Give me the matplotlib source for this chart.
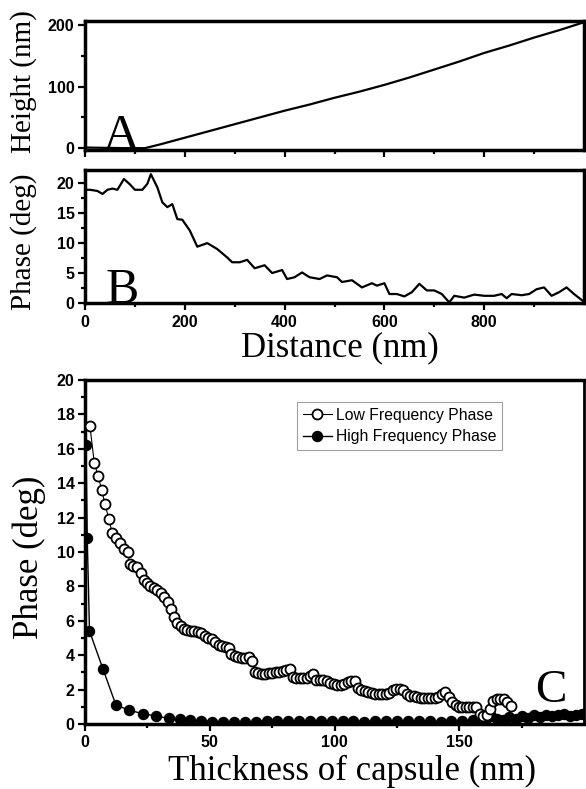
import matplotlib
matplotlib.use("Agg")
import matplotlib.pyplot as plt
from matplotlib.ticker import MultipleLocator, FixedLocator

# ---------------- data ----------------
dist_height = [0, 40, 80, 120, 150, 200, 250, 300, 350, 400, 450, 500, 550, 600,
               650, 700, 750, 800, 850, 900, 950, 1000]
height_nm = [1, 0.5, 0, 0, 6, 17, 28, 39, 50, 61, 71, 82, 92, 103,
             115, 128, 141, 155, 167, 180, 192, 205]

dist_phase = [0, 10, 25, 35, 45, 55, 65, 78, 90, 100, 115, 125, 132, 145, 155, 165, 175,
              185, 195, 210, 225, 245, 265, 285, 295, 310, 325, 340, 360, 375, 395, 405,
              420, 435, 450, 470, 485, 505, 515, 535, 555, 575, 585, 600, 610, 625, 640,
              655, 670, 685, 700, 715, 730, 740, 760, 780, 800, 820, 835, 845, 855, 875,
              890, 905, 920, 935, 950, 965, 980, 1000]
phase_deg = [18.9, 18.9, 18.7, 18.2, 18.9, 19.1, 18.9, 20.7, 19.8, 18.9, 18.9, 19.9, 21.5,
             19.3, 16.8, 16.0, 16.5, 14.0, 13.9, 12.1, 9.4, 10.0, 9.0, 7.6, 6.8, 6.8, 7.2,
             5.8, 6.3, 5.0, 5.5, 4.0, 4.3, 5.1, 4.3, 4.0, 4.6, 4.3, 3.5, 3.8, 2.6, 3.3,
             2.9, 3.3, 1.5, 1.5, 1.1, 1.8, 3.2, 2.1, 2.1, 1.5, 0.1, 1.2, 0.9, 1.4, 1.2,
             1.2, 1.5, 0.8, 1.5, 1.3, 1.5, 2.3, 2.6, 1.2, 1.8, 2.6, 1.5, 0.2]

low_x = [2.0, 3.7, 5.3, 6.7, 8.0, 9.6, 10.9, 12.3, 14.0, 15.7, 17.3, 17.9, 19.3, 20.9,
         22.4, 23.6, 24.7, 26.2, 27.5, 28.9, 30.4, 31.8, 33.3, 34.4, 35.7, 37.0, 38.3,
         39.6, 41.0, 42.4, 43.8, 45.2, 46.6, 48.0, 49.4, 50.8, 52.2, 53.6, 55.0, 56.4,
         57.6, 58.6, 60.0, 61.4, 62.8, 64.2, 65.6, 66.9, 68.1, 69.4, 70.8, 72.2, 73.6,
         75.0, 76.4, 77.8, 79.2, 80.6, 82.0, 83.3, 84.7, 86.1, 87.5, 88.9, 90.3, 91.5,
         92.7, 94.1, 95.5, 96.9, 98.3, 99.7, 101.1, 102.5, 103.9, 105.3, 106.7, 108.1,
         109.3, 110.7, 112.1, 113.5, 114.9, 116.3, 117.7, 119.1, 120.5, 121.9, 123.3,
         124.7, 126.1, 127.5, 128.9, 130.3, 131.7, 133.1, 134.5, 135.9, 137.3, 138.7,
         140.1, 141.5, 142.9, 144.3, 145.7, 147.1, 148.5, 149.9, 151.3, 152.7, 154.1,
         155.5, 156.9, 158.3, 159.5, 161.0, 162.5, 163.6, 165.0, 166.4, 167.8, 169.2,
         170.6]
low_phase = [17.3, 15.2, 14.4, 13.6, 12.8, 11.9, 11.1, 10.8, 10.5, 10.2, 10.0, 9.3, 9.2,
             9.1, 8.8, 8.4, 8.2, 8.0, 7.9, 7.8, 7.6, 7.4, 7.1, 6.7, 6.2, 5.9, 5.7, 5.55,
             5.45, 5.4, 5.4, 5.35, 5.3, 5.1, 5.0, 4.95, 4.75, 4.6, 4.55, 4.5, 4.4, 4.05,
             3.95, 3.9, 3.85, 3.85, 3.9, 3.65, 3.0, 2.95, 2.93, 2.93, 2.95, 2.97, 3.0,
             3.05, 3.1, 3.15, 3.2, 2.75, 2.7, 2.7, 2.7, 2.7, 2.8, 2.9, 2.55, 2.55, 2.55,
             2.5, 2.4, 2.3, 2.25, 2.25, 2.35, 2.45, 2.5, 2.5, 2.1, 1.95, 1.9, 1.85, 1.8,
             1.75, 1.75, 1.75, 1.75, 1.8, 2.0, 2.05, 2.05, 2.0, 1.75, 1.65, 1.6, 1.55,
             1.5, 1.5, 1.5, 1.5, 1.5, 1.55, 1.73, 1.85, 1.55, 1.3, 1.1, 1.0, 0.97, 0.97,
             0.97, 0.97, 0.97, 0.6, 0.45, 0.5, 0.9, 1.35, 1.43, 1.43, 1.43, 1.3, 1.04]

high_x = [0.4, 0.9, 1.8, 7.2, 12.4, 17.8, 23.1, 28.3, 33.5, 37.9, 42.2, 46.6, 51.0, 55.3,
          59.7, 64.0, 68.4, 72.8, 77.1, 81.5, 85.8, 90.2, 94.5, 98.9, 103.3, 107.6, 112.0,
          116.3, 120.7, 125.0, 129.4, 133.8, 138.1, 142.5, 146.8, 151.2, 155.5, 158.0,
          160.4, 162.8, 165.3, 167.7, 170.1, 172.6, 175.0, 177.4, 179.8, 182.3, 184.7,
          187.1, 189.5, 192.0, 194.4, 196.8, 199.2]
high_phase = [16.2, 10.8, 5.4, 3.2, 1.1, 0.8, 0.6, 0.47, 0.33, 0.28, 0.23, 0.19, 0.14,
              0.11, 0.09, 0.12, 0.14, 0.15, 0.16, 0.18, 0.16, 0.15, 0.15, 0.16, 0.17,
              0.15, 0.14, 0.15, 0.16, 0.17, 0.15, 0.16, 0.15, 0.14, 0.16, 0.18, 0.25,
              0.35, 0.2, 0.45, 0.3, 0.25, 0.4, 0.3, 0.45, 0.35, 0.5, 0.4, 0.55, 0.45,
              0.5, 0.6, 0.45, 0.55, 0.6]

# ---------------- figure ----------------
W, H = 586, 789
fig = plt.figure(figsize=(W / 100, H / 100), dpi=100)

def rect(l, t, r, b):
    return [l / W, 1 - b / H, (r - l) / W, (b - t) / H]

axA = fig.add_axes(rect(85, 21, 584, 150))
axB = fig.add_axes(rect(85, 170, 584, 303))
axC = fig.add_axes(rect(85, 380, 584, 724))

serif = "Liberation Serif"
sans = "Liberation Sans"

def style(ax, size):
    for s in ax.spines.values():
        s.set_linewidth(2.5)
    ax.tick_params(which="both", direction="out", width=1.6, top=False, right=False)
    ax.tick_params(which="major", length=5, pad=2.5)
    ax.tick_params(which="minor", length=3)
    for lab in ax.get_xticklabels() + ax.get_yticklabels():
        lab.set_fontfamily(sans)
        lab.set_fontweight("bold")
        lab.set_fontsize(size)

# Panel A
axA.plot(dist_height, height_nm, color="black", lw=1.6)
axA.set_xlim(0, 1000)
axA.set_ylim(-3, 207)
axA.xaxis.set_major_locator(FixedLocator([0, 200, 400, 600, 800]))
axA.xaxis.set_minor_locator(FixedLocator([100, 300, 500, 700, 900]))
axA.yaxis.set_major_locator(FixedLocator([0, 100, 200]))
axA.yaxis.set_minor_locator(FixedLocator([50, 150]))
axA.set_xticklabels([])
style(axA, 11.5)
axA.text(0.036, 0.01, "A", transform=axA.transAxes, fontfamily=serif, fontsize=37,
         ha="left", va="baseline")

# Panel B
axB.plot(dist_phase, phase_deg, color="black", lw=1.6)
axB.set_xlim(0, 1000)
axB.set_ylim(0, 22.2)
axB.xaxis.set_major_locator(FixedLocator([0, 200, 400, 600, 800]))
axB.xaxis.set_minor_locator(FixedLocator([100, 300, 500, 700, 900]))
axB.yaxis.set_major_locator(MultipleLocator(5))
axB.yaxis.set_minor_locator(MultipleLocator(2.5))
style(axB, 11.5)
axB.tick_params(axis="x", which="major", pad=3.5)
axB.text(0.042, 0.0, "B", transform=axB.transAxes, fontfamily=serif, fontsize=36,
         ha="left", va="baseline")

# Panel C
axC.plot(high_x, high_phase, color="black", lw=1.0, marker="o", ms=7.2, mfc="black",
         mec="black", mew=1.0, label="High Frequency Phase", zorder=2)
axC.plot(low_x, low_phase, color="black", lw=0.8, marker="o", ms=7.2, mfc="white",
         mec="black", mew=1.3, label="Low Frequency Phase", zorder=3)
axC.set_xlim(0, 200)
axC.set_ylim(0, 20)
axC.xaxis.set_major_locator(FixedLocator([0, 50, 100, 150]))
axC.xaxis.set_minor_locator(FixedLocator([25, 75, 125, 175]))
axC.yaxis.set_major_locator(MultipleLocator(2))
axC.yaxis.set_minor_locator(MultipleLocator(1))
style(axC, 11.5)
axC.tick_params(axis="x", which="major", pad=3)
axC.spines["right"].set_linewidth(2.0)
h, l = axC.get_legend_handles_labels()
leg = axC.legend(h[::-1], l[::-1], loc="upper left", bbox_to_anchor=(0.425, 0.935),
                 borderaxespad=0, frameon=True, fancybox=False, edgecolor="#888888",
                 prop={"family": sans, "size": 11.3}, handlelength=1.9,
                 handletextpad=0.25, borderpad=0.35, labelspacing=0.4)
leg.get_frame().set_linewidth(0.8)
axC.text(0.902, 0.064, "C", transform=axC.transAxes, fontfamily=serif, fontsize=34,
         ha="left", va="baseline")

# axis labels
fig.text(24 / W, 1 - 82 / H, "Height (nm)", rotation=90, ha="center", va="center",
         fontfamily=serif, fontsize=21)
fig.text(24 / W, 1 - 242 / H, "Phase (deg)", rotation=90, ha="center", va="center",
         fontfamily=serif, fontsize=21)
fig.text(340 / W, 1 - 348 / H, "Distance (nm)", ha="center", va="center",
         fontfamily=serif, fontsize=25)
fig.text(29 / W, 1 - 557 / H, "Phase (deg)", rotation=90, ha="center", va="center",
         fontfamily=serif, fontsize=25)
fig.text(352 / W, 1 - 771 / H, "Thickness of capsule (nm)", ha="center", va="center",
         fontfamily=serif, fontsize=25)

fig.savefig("out.png", dpi=100)
